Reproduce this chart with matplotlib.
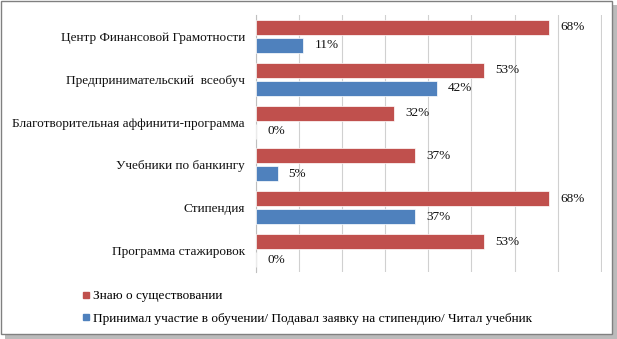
import numpy as np
import matplotlib
matplotlib.use('Agg')
import matplotlib.pyplot as plt
from matplotlib.patches import Rectangle
from matplotlib.lines import Line2D

plt.rcParams['font.family'] = ['Liberation Serif', 'DejaVu Serif']

categories = ['Центр Финансовой Грамотности', 'Предпринимательский  всеобуч',
              'Благотворительная аффинити-программа', 'Учебники по банкингу',
              'Стипендия', 'Программа стажировок']
know = [68, 53, 32, 37, 68, 53]
took_part = [11, 42, 0, 5, 37, 0]
series_names = ['Знаю о существовании',
                'Принимал участие в обучении/ Подавал заявку на стипендию/ Читал учебник']
red = '#C0504D'
blue = '#4F81BD'

fig = plt.figure(figsize=(6.17, 3.39), dpi=100)
ax = fig.add_axes([256 / 617, 1 - 272 / 339, (602 - 256) / 617, (272 - 15) / 339])

y = np.arange(len(categories))
h = 0.35
gap = 0.07
b1 = ax.barh(y - (h + gap) / 2, know, height=h, color=red, edgecolor='white', linewidth=0.5, zorder=3)
b2 = ax.barh(y + (h + gap) / 2, took_part, height=h, color=blue, edgecolor='white', linewidth=0.5, zorder=3)

for bars, vals in ((b1, know), (b2, took_part)):
    for bar, v in zip(bars, vals):
        ax.annotate('{}%'.format(v), (v, bar.get_y() + bar.get_height() / 2),
                    xytext=(8, 0), textcoords='offset points', va='center', ha='left',
                    fontsize=9.5, color='#111111')

ax.set_xlim(0, 80.3)
ax.set_ylim(len(categories) - 0.5, -0.5)
ax.set_xticks(np.arange(0, 81, 10))
ax.set_xticklabels([])
ax.tick_params(axis='x', length=0)
ax.tick_params(axis='y', length=0, pad=8)
ax.set_yticks(y)
ax.set_yticklabels(categories, fontsize=9.5, color='#111111')
ax.grid(axis='x', color='#D0D0D0', linewidth=0.8, zorder=0)
for s in ['top', 'right', 'bottom']:
    ax.spines[s].set_visible(False)
ax.spines['left'].set_color('#BFBFBF')

handles = [Line2D([], [], marker='s', linestyle='', color=red, markersize=5),
           Line2D([], [], marker='s', linestyle='', color=blue, markersize=5)]
fig.legend(handles, series_names, loc='upper left', bbox_to_anchor=(82 / 617, 1 - 290 / 339),
           frameon=False, fontsize=9.5, handlelength=0.6, handletextpad=0.2,
           labelspacing=0.8, borderaxespad=0, borderpad=0)

# frame with shadow
fig.patches.append(Rectangle((5 / 617, 0), 612 / 617, 334 / 339, transform=fig.transFigure,
                             facecolor='#BBBBBB', edgecolor='none', zorder=-2))
fig.patches.append(Rectangle((1 / 617, 5 / 339), 611 / 617, 333 / 339, transform=fig.transFigure,
                             facecolor='white', edgecolor='#808080', linewidth=1, zorder=-1))

fig.savefig('out.png', dpi=100)
